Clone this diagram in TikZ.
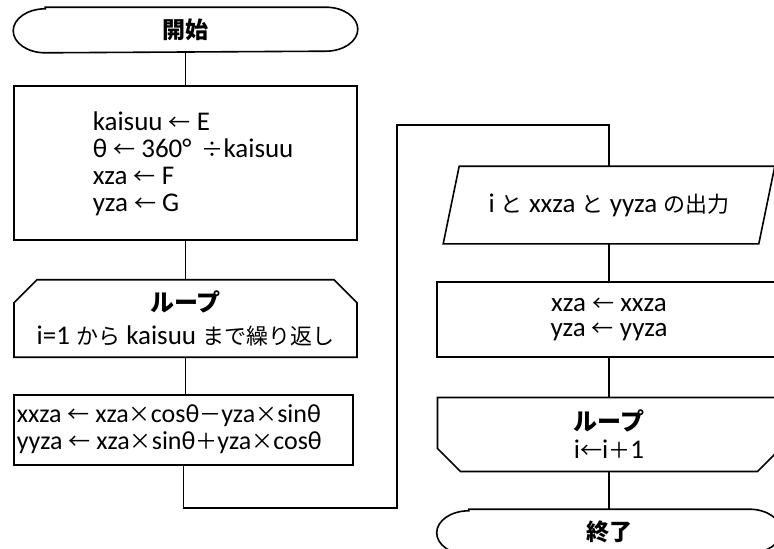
\documentclass[tikz,border=0pt]{standalone}
\usepackage{fontspec}
\setmainfont{Carlito}
\newfontfamily\jp{Noto Sans CJK JP}
\usetikzlibrary{shapes.misc}
\newcommand{\J}[1]{{\jp\fontsize{22}{27}\selectfont #1}}
\newcommand{\JB}[1]{{\jp\bfseries\fontsize{24}{27}\selectfont #1}}
\newcommand{\arr}{\J{←}}
\tikzset{
  x=1pt,y=-1pt,
  every path/.style={line width=1.6pt},
  txt/.style={font=\fontsize{27}{27}\selectfont, align=center, inner sep=0pt},
  termnode/.style={draw=none, minimum width=343pt, minimum height=44pt, inner sep=0pt, font=\fontsize{23}{24}\selectfont\jp\bfseries},
  procbox/.style={draw, line width=1.6pt, rectangle, inner sep=0pt},
  loopbox/.style={draw, line width=1.6pt, chamfered rectangle, chamfered rectangle xsep=12pt, chamfered rectangle ysep=11pt, inner sep=0pt, minimum width=343pt, minimum height=74pt, font=\fontsize{27}{27}\selectfont, align=center},
  conn/.style={line width=1.6pt},
}
\begin{document}
\begin{tikzpicture}
\useasboundingbox (0,0) rectangle (774,549);
% left column
\node[termnode] (start) at (185.5,30) {開始};
\node[procbox, minimum width=343pt, minimum height=154pt] (init) at (185.5,163) {};
\node[txt, align=left, anchor=west] (initt) at (92,164) {kaisuu \arr{} E\\θ \arr{} 360°\hspace{10pt}\J{÷}kaisuu\\xza \arr{} F\\yza \arr{} G};
\node[loopbox, chamfered rectangle corners={north west,north east}] (loopa) at (185.5,318.5) {\JB{ループ}\\[6pt]i=1 \J{から} kaisuu \J{まで繰り返し}};
\node[procbox, minimum width=339pt, minimum height=70pt] (calc) at (183.5,430) {};
\node[txt, align=left, anchor=west, font=\fontsize{26}{27}\selectfont] (calct) at (16,429) {xxza \arr{} xza\J{×}cosθ\J{－}yza\J{×}sinθ\\yyza \arr{} xza\J{×}sinθ\J{＋}yza\J{×}cosθ};
% right column
\node[draw=none, minimum width=314pt, minimum height=76pt, txt] (out) at (609,205) {i \J{と} xxza \J{と} yyza \J{の出力}};
\node[procbox, minimum width=344pt, minimum height=75pt, txt, font=\fontsize{27}{25}\selectfont] (upd) at (609,319.5) {xza \arr{} xxza\\yza \arr{} yyza};
\node[loopbox, chamfered rectangle corners={south west,south east}] (loopb) at (609,434.5) {\JB{ループ}\\[1pt]i\arr{}i\J{＋}1};
\node[termnode] (end) at (609,532) {終了};
% terminal outlines
\foreach \n in {start,end}{
  \draw ([xshift=32pt]\n.north west) -- ([xshift=-32pt]\n.north east)
    arc[start angle=90,end angle=-90,x radius=32pt,y radius=22pt]
    -- ([xshift=32pt]\n.south west)
    arc[start angle=270,end angle=90,x radius=32pt,y radius=22pt] -- cycle;
}
% parallelogram outline
\draw ([xshift=-8pt]out.south west) -- ([xshift=8pt]out.north west) -- ([xshift=8pt]out.north east) -- ([xshift=-8pt]out.south east) -- cycle;
% connectors
\coordinate (c1) at (397,508);
\coordinate (c2) at (397,125);
\draw[conn] (start.south) -- (init.north);
\draw[conn] (init.south) -- (loopa.north);
\draw[conn] (loopa.south) -- (loopa.south |- calc.north);
\draw[conn] (calc.south) |- (c1) -- (c2) -| (out.north);
\draw[conn] (out.south) -- (upd.north);
\draw[conn] (upd.south) -- (loopb.north);
\draw[conn] (loopb.south) -- (end.north);
\end{tikzpicture}
\end{document}
